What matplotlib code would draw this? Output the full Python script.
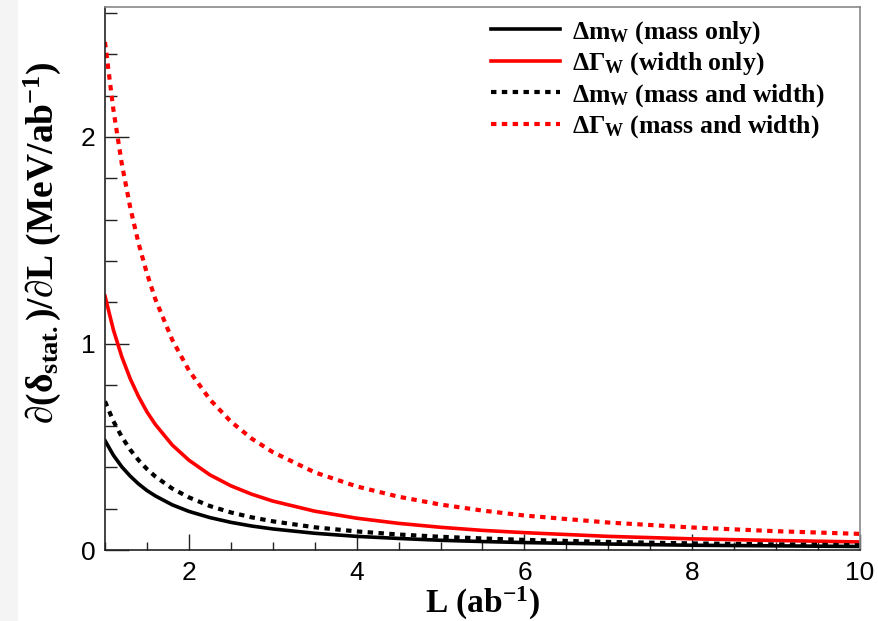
import matplotlib
matplotlib.use("Agg")
import matplotlib.pyplot as plt
from matplotlib.ticker import MultipleLocator
from matplotlib.patches import Rectangle

# Luminosity sample points (ab^-1)
L = [1.0, 1.1, 1.2, 1.3, 1.4, 1.5, 1.6, 1.8, 2.0, 2.25, 2.5, 2.75, 3.0,
     3.5, 4.0, 4.5, 5.0, 5.5, 6.0, 7.0, 8.0, 9.0, 10.0]

# Values (MeV/ab^-1)
mass_only = [0.530, 0.459, 0.403, 0.358, 0.320, 0.288, 0.262, 0.219, 0.187,
             0.157, 0.134, 0.116, 0.102, 0.081, 0.066, 0.056, 0.047, 0.041,
             0.036, 0.029, 0.023, 0.020, 0.017]
width_only = [1.230, 1.066, 0.936, 0.830, 0.743, 0.669, 0.608, 0.509, 0.435,
              0.364, 0.311, 0.270, 0.237, 0.188, 0.154, 0.129, 0.110, 0.095,
              0.084, 0.066, 0.054, 0.046, 0.039]
mass_mw = [0.720, 0.624, 0.548, 0.486, 0.435, 0.392, 0.356, 0.298, 0.255,
           0.213, 0.182, 0.158, 0.139, 0.110, 0.090, 0.075, 0.064, 0.056,
           0.049, 0.039, 0.032, 0.027, 0.023]
width_mw = [2.460, 2.132, 1.871, 1.660, 1.485, 1.339, 1.215, 1.019, 0.870,
            0.729, 0.622, 0.539, 0.474, 0.376, 0.308, 0.258, 0.220, 0.191,
            0.167, 0.133, 0.109, 0.091, 0.078]

labels = [r"Δm$_{\mathrm{W}}$ (mass only)",
          r"ΔΓ$_{\mathrm{W}}$ (width only)",
          r"Δm$_{\mathrm{W}}$ (mass and width)",
          r"ΔΓ$_{\mathrm{W}}$ (mass and width)"]

plt.rcParams['mathtext.fontset'] = 'custom'
plt.rcParams['mathtext.rm'] = 'Liberation Serif:bold'
plt.rcParams['mathtext.it'] = 'Liberation Serif:italic:bold'
plt.rcParams['mathtext.bf'] = 'Liberation Serif:bold'

serif = ['Liberation Serif', 'DejaVu Serif']

fig = plt.figure(figsize=(8.79, 6.21), dpi=100)
fig.patches.append(Rectangle((0, 0), 17/879, 1, transform=fig.transFigure,
                             color='#f4f4f4', zorder=0))
ax = fig.add_axes([105/879, 1 - 550/621, 755/879, (550 - 6.7)/621])

dot = (0, (1.3, 1.3))
ax.plot(L, mass_only, color='black', lw=2.6, label=labels[0])
ax.plot(L, width_only, color='#ff0000', lw=2.6, label=labels[1])
ax.plot(L, mass_mw, color='black', lw=3.0, ls=dot, dash_capstyle='butt', label=labels[2])
ax.plot(L, width_mw, color='#ff0000', lw=3.0, ls=dot, dash_capstyle='butt', label=labels[3])

ax.set_xlim(1, 10)
ax.set_ylim(0, (550 - 6.7)/206.5)

ax.xaxis.set_major_locator(MultipleLocator(2))
ax.xaxis.set_minor_locator(MultipleLocator(0.5))
ax.yaxis.set_major_locator(MultipleLocator(1))
ax.yaxis.set_minor_locator(MultipleLocator(0.2))

ax.tick_params(axis='both', which='both', direction='in', top=False, right=False,
               width=1.0, color='#222222')
ax.tick_params(axis='y', which='major', length=17, pad=7)
ax.tick_params(axis='y', which='minor', length=8.5)
ax.tick_params(axis='x', which='major', length=11.5, pad=8)
ax.tick_params(axis='x', which='minor', length=6)

for lab in ax.get_xticklabels() + ax.get_yticklabels():
    lab.set_fontfamily('Liberation Sans')
    lab.set_fontsize(19)

for s in ['left', 'bottom']:
    ax.spines[s].set_color('#222222')
    ax.spines[s].set_linewidth(1.2)
for s in ['top', 'right']:
    ax.spines[s].set_color('#888888')
    ax.spines[s].set_linewidth(1.2)

ax.set_xlabel(r"L (ab$^{-1}$)", fontfamily=serif, fontweight='bold',
              fontsize=24, labelpad=0)
ax.set_ylabel(r"∂(δ$_{\mathrm{stat.}}$)/∂L (MeV/ab$^{-1}$)", fontfamily=serif,
              fontweight='bold', fontsize=27, loc='top')
ax.yaxis.set_label_coords(-0.055, 0.90)

leg = ax.legend(loc='upper left', bbox_to_anchor=(491/879, 1 - 19/621),
                bbox_transform=fig.transFigure, frameon=False,
                prop={'family': serif, 'weight': 'bold', 'size': 18.5},
                handlelength=2.7, handletextpad=0.45, labelspacing=0.18,
                borderpad=0, borderaxespad=0)

fig.savefig("out.png", dpi=100)
